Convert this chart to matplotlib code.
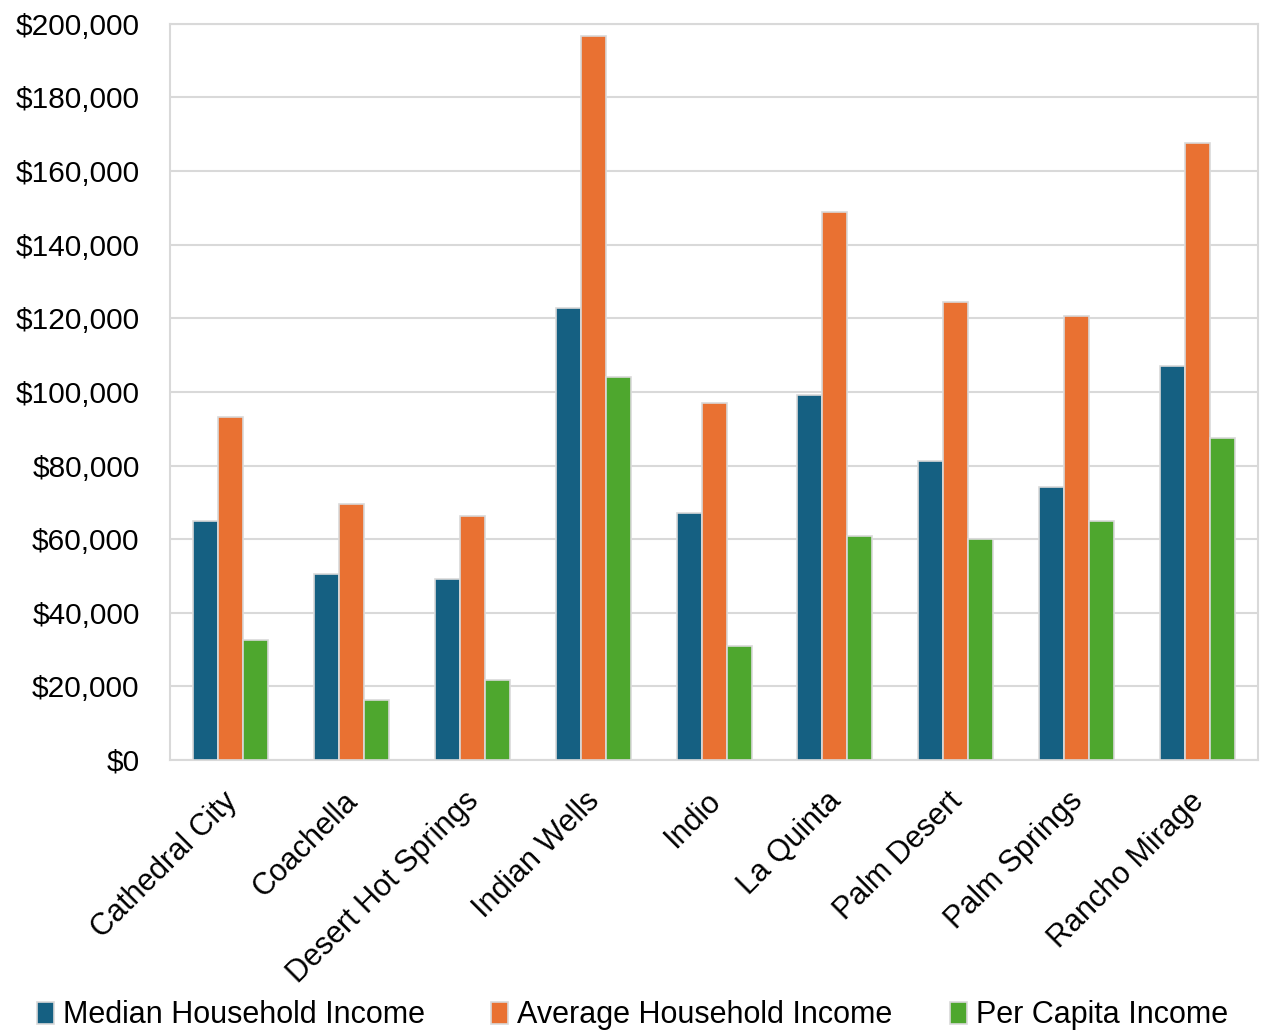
import matplotlib
matplotlib.use("Agg")
import matplotlib.pyplot as plt
import numpy as np
from matplotlib.ticker import FuncFormatter
from matplotlib.transforms import ScaledTranslation

cities = ["Cathedral City", "Coachella", "Desert Hot Springs", "Indian Wells", "Indio",
          "La Quinta", "Palm Desert", "Palm Springs", "Rancho Mirage"]
median_hh = [64800, 50600, 49200, 122800, 67200, 99200, 81200, 74100, 107100]
average_hh = [93200, 69500, 66400, 196600, 97000, 148800, 124500, 120600, 167600]
per_capita = [32500, 16300, 21700, 104000, 31000, 60900, 60000, 64800, 87500]

series = [("Median Household Income", median_hh, "#156082"),
          ("Average Household Income", average_hh, "#E97132"),
          ("Per Capita Income", per_capita, "#4EA72E")]

plt.rcParams["font.family"] = ["Liberation Sans", "DejaVu Sans"]

fig = plt.figure(figsize=(12.61, 10.34), dpi=100)
ax = fig.add_axes([0.135, 0.265, 0.8625, 0.712])

x = np.arange(len(cities))
w = 0.207
handles = []
for i, (name, vals, color) in enumerate(series):
    b = ax.bar(x + (i - 1) * w, vals, w, color=color, edgecolor="#d9d9d9",
               linewidth=1.2, label=name, zorder=3)
    handles.append(b)

ax.set_xlim(-0.5, len(cities) - 0.5)
ax.set_ylim(0, 200000)
ax.set_yticks(np.arange(0, 200001, 20000))
ax.yaxis.set_major_formatter(FuncFormatter(lambda v, p: f"${v:,.0f}"))
ax.grid(axis="y", color="#d9d9d9", linewidth=1.5, zorder=0)
for s in ax.spines.values():
    s.set_color("#d9d9d9")
    s.set_linewidth(1.5)
ax.tick_params(axis="y", length=0, labelsize=21.5, pad=22)
ax.set_xticks(x)
ax.set_xticklabels(cities, rotation=45, ha="right", rotation_mode="anchor", fontsize=22)
ax.tick_params(axis="x", length=0, pad=16)
# nudge rotated labels a little left/down, like the original
shift = ScaledTranslation(-0.09, -0.04, fig.dpi_scale_trans)
for lbl in ax.get_xticklabels():
    lbl.set_transform(lbl.get_transform() + shift)

# one legend per entry so each sits where the reference puts it
for h, (name, _, _), x0 in zip(handles, series, [37, 491, 950]):
    fig.legend(handles=[h], labels=[name], loc="center left",
               bbox_to_anchor=(x0 / 1261, 0.018), frameon=False, fontsize=22,
               handlelength=0.55, handleheight=0.75, handletextpad=0.3,
               borderpad=0, borderaxespad=0)

fig.savefig("out.png", dpi=100)
